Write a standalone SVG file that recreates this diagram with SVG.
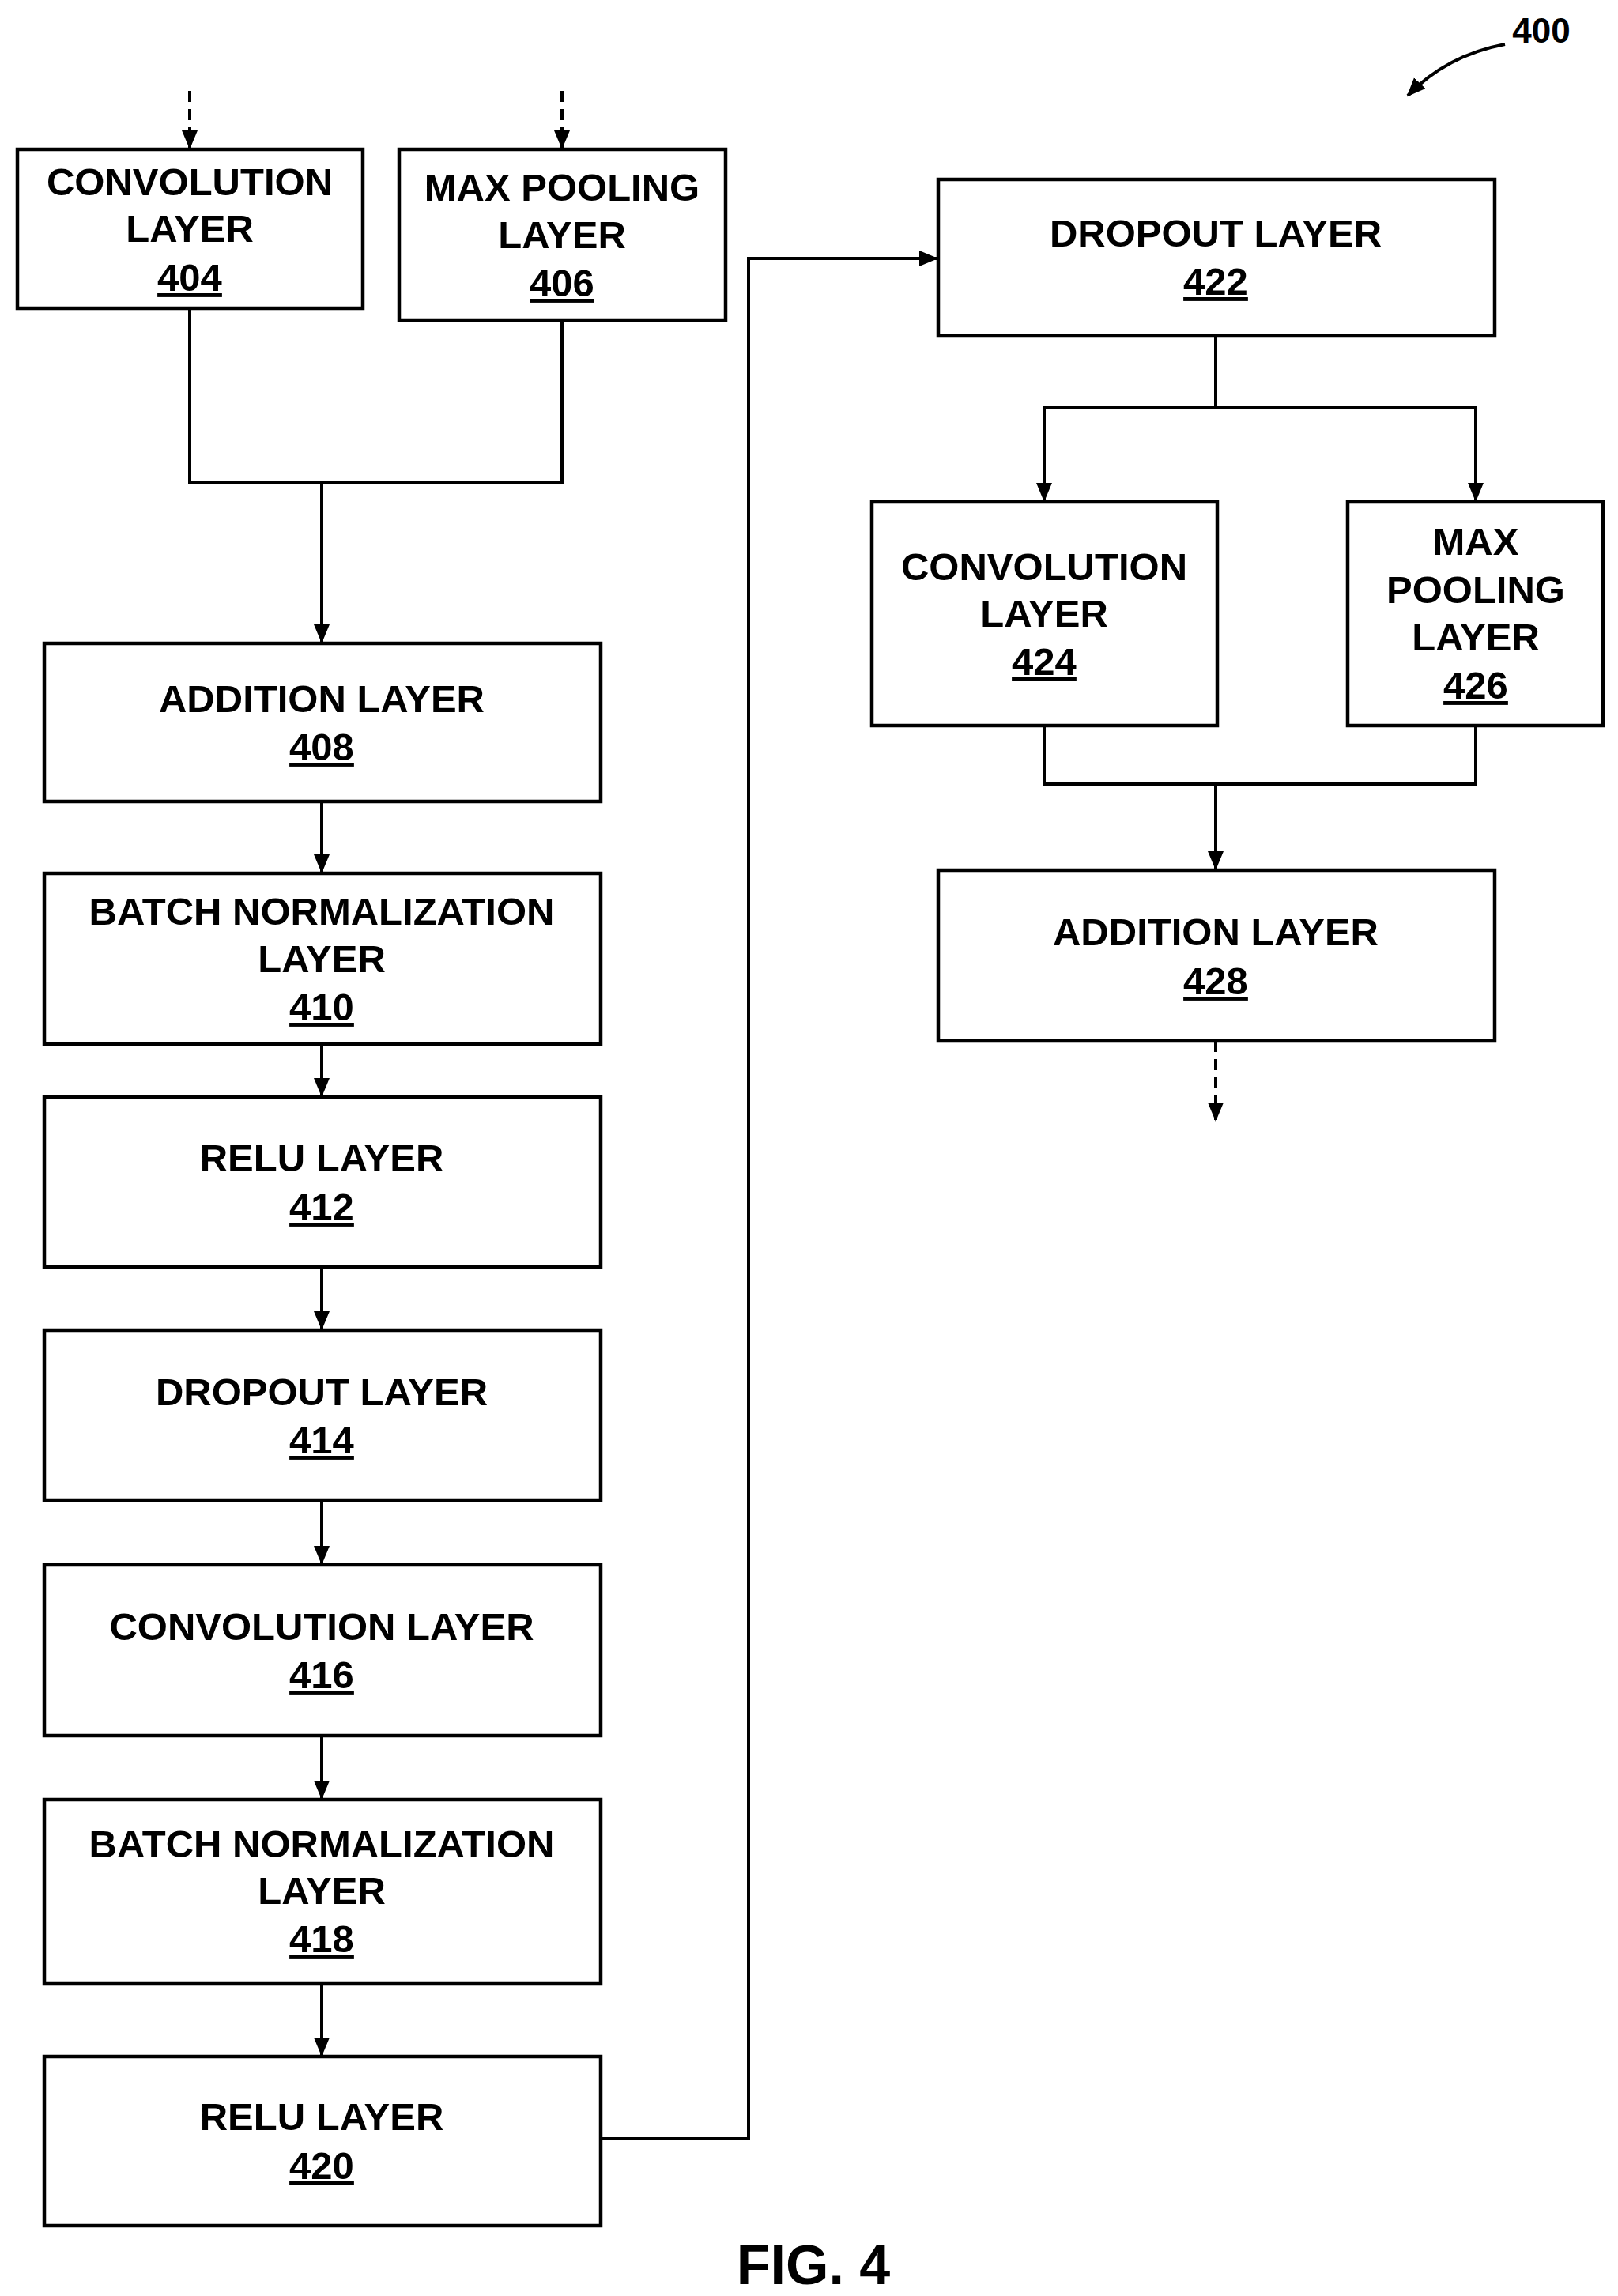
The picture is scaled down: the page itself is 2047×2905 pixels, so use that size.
<svg xmlns="http://www.w3.org/2000/svg" width="2047" height="2905" viewBox="0 0 2047 2905">
<style>
.b{fill:#fff;stroke:#000;stroke-width:4.5}
text{font-family:"Liberation Sans",Arial,sans-serif;font-weight:bold;font-size:49px;text-anchor:middle;fill:#000}
.u{text-decoration:underline}
.c{fill:none;stroke:#000;stroke-width:4}
.d{stroke-dasharray:14,9}
</style>
<defs><marker id="a" markerWidth="10" markerHeight="10" refX="9" refY="5" orient="auto" markerUnits="userSpaceOnUse" viewBox="0 0 10 10"><path d="M0,0L10,5L0,10z" fill="#000"/></marker>
<marker id="ah" markerWidth="24" markerHeight="24" refX="22" refY="12" orient="auto" markerUnits="userSpaceOnUse" viewBox="0 0 24 24"><path d="M0,2L24,12L0,22z" fill="#000"/></marker></defs>
<g id="connectors">
<path class="c d" d="M240,115V187" marker-end="url(#ah)"/>
<path class="c d" d="M711,115V187" marker-end="url(#ah)"/>
<path class="c" d="M240,390V611H711V405M407,611V812" marker-end="url(#ah)"/>
<path class="c" d="M407,1014V1103" marker-end="url(#ah)"/>
<path class="c" d="M407,1321V1386" marker-end="url(#ah)"/>
<path class="c" d="M407,1603V1681" marker-end="url(#ah)"/>
<path class="c" d="M407,1898V1978" marker-end="url(#ah)"/>
<path class="c" d="M407,2196V2275" marker-end="url(#ah)"/>
<path class="c" d="M407,2510V2600" marker-end="url(#ah)"/>
<path class="c" d="M760,2706H947V327H1185" marker-end="url(#ah)"/>
<path class="c" d="M1538,425V516H1321V633" marker-end="url(#ah)"/>
<path class="c" d="M1538,516H1867V633" marker-end="url(#ah)"/>
<path class="c" d="M1321,918V992H1867V918M1538,992V1099" marker-end="url(#ah)"/>
<path class="c d" d="M1538,1317V1417" marker-end="url(#ah)"/>
<path class="c" d="M1904,56Q1830,70 1781,121" marker-end="url(#ah)"/>
</g>
<g id="n404"><rect class="b" x="22" y="189" width="437" height="201"/><text x="240" y="247">CONVOLUTION</text><text x="240" y="306">LAYER</text><text class="u" x="240" y="368">404</text></g>
<g id="n406"><rect class="b" x="505" y="189" width="413" height="216"/><text x="711" y="254">MAX POOLING</text><text x="711" y="314">LAYER</text><text class="u" x="711" y="375">406</text></g>
<g id="n408"><rect class="b" x="56" y="814" width="704" height="200"/><text x="407" y="901">ADDITION LAYER</text><text class="u" x="407" y="962">408</text></g>
<g id="n410"><rect class="b" x="56" y="1105" width="704" height="216"/><text x="407" y="1170">BATCH NORMALIZATION</text><text x="407" y="1230">LAYER</text><text class="u" x="407" y="1291">410</text></g>
<g id="n412"><rect class="b" x="56" y="1388" width="704" height="215"/><text x="407" y="1482">RELU LAYER</text><text class="u" x="407" y="1544">412</text></g>
<g id="n414"><rect class="b" x="56" y="1683" width="704" height="215"/><text x="407" y="1778">DROPOUT LAYER</text><text class="u" x="407" y="1839">414</text></g>
<g id="n416"><rect class="b" x="56" y="1980" width="704" height="216"/><text x="407" y="2075">CONVOLUTION LAYER</text><text class="u" x="407" y="2136">416</text></g>
<g id="n418"><rect class="b" x="56" y="2277" width="704" height="233"/><text x="407" y="2350">BATCH NORMALIZATION</text><text x="407" y="2409">LAYER</text><text class="u" x="407" y="2470">418</text></g>
<g id="n420"><rect class="b" x="56" y="2602" width="704" height="214"/><text x="407" y="2695">RELU LAYER</text><text class="u" x="407" y="2757">420</text></g>
<g id="n422"><rect class="b" x="1187" y="227" width="704" height="198"/><text x="1538" y="312">DROPOUT LAYER</text><text class="u" x="1538" y="373">422</text></g>
<g id="n424"><rect class="b" x="1103" y="635" width="437" height="283"/><text x="1321" y="734">CONVOLUTION</text><text x="1321" y="793">LAYER</text><text class="u" x="1321" y="854">424</text></g>
<g id="n426"><rect class="b" x="1705" y="635" width="323" height="283"/><text x="1867" y="702">MAX</text><text x="1867" y="763">POOLING</text><text x="1867" y="823">LAYER</text><text class="u" x="1867" y="884">426</text></g>
<g id="n428"><rect class="b" x="1187" y="1101" width="704" height="216"/><text x="1538" y="1196">ADDITION LAYER</text><text class="u" x="1538" y="1258">428</text></g>
<text x="1950" y="54" style="font-size:44px">400</text>
<text x="1029" y="2890" style="font-size:70px">FIG. 4</text>
</svg>
